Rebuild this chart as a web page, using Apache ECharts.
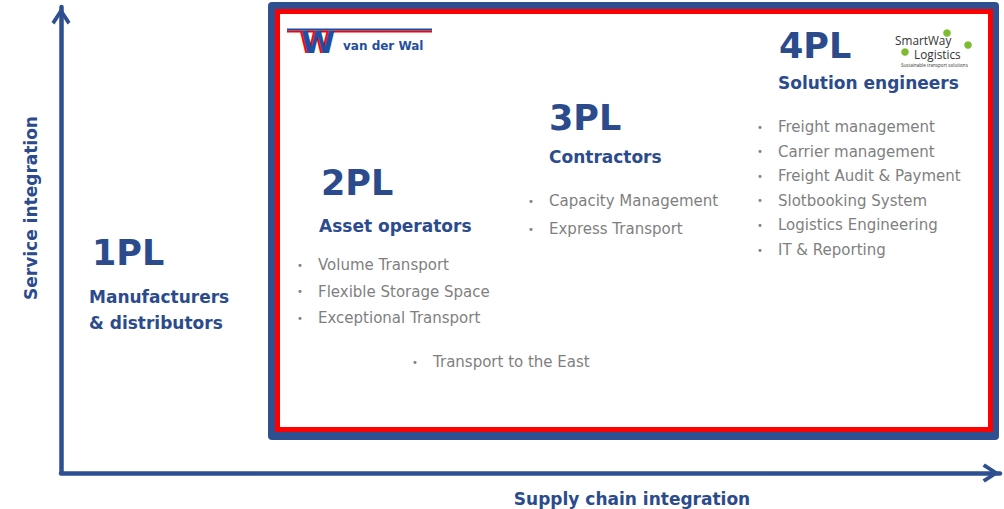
<!DOCTYPE html>
<html><head><meta charset="utf-8">
<script src="https://cdn.jsdelivr.net/npm/echarts@6/dist/echarts.min.js"></script>
<style>html,body{margin:0;padding:0;background:#fff}#c{width:1004px;height:509px}</style>
</head><body><div id="c"></div>
<script>
// ---- data ----
const tiers = ['1PL', '2PL', '3PL', '4PL'];
const roles = ['Manufacturers\n& distributors', 'Asset operators', 'Contractors', 'Solution engineers'];
const services2PL = ['Volume Transport', 'Flexible Storage Space', 'Exceptional Transport'];
const services3PL = ['Capacity Management', 'Express Transport'];
const services4PL = ['Freight management', 'Carrier management', 'Freight Audit & Payment', 'Slotbooking System', 'Logistics Engineering', 'IT & Reporting'];
const extraServices = ['Transport to the East'];
const axisNames = ['Supply chain integration', 'Service integration'];
const logoVdW = 'van der Wal';
const logoSW = ['SmartWay', 'Logistics', 'Sustainable transport solutions'];

// ---- style / layout ----
const NAVY = '#2b4b8c', AXIS = '#2e4f90', GRAY = '#7f7f7f', RED = '#ff0000';
const FF = '"DejaVu Sans", Verdana, sans-serif';
const tierPos = [[92, 253], [321, 183], [549, 118], [779, 46]];
const rolePos = [[89, 297], [319, 226], [549, 157], [778, 83]];
const servicesLists = [[], services2PL, services3PL, services4PL];
const listPos = [null, [318, 265], [549, 201], [778, 127]];
const listGaps = [0, 26.5, 28, 24.6];
const extraPos = [433, 362];

const g = [];
// frame
g.push({type: 'rect', shape: {x: 268, y: 2, width: 731, height: 438, r: 4}, style: {fill: AXIS}, z: 1});
g.push({type: 'rect', shape: {x: 275, y: 9, width: 718, height: 423}, style: {fill: RED}, z: 2});
g.push({type: 'rect', shape: {x: 280, y: 14, width: 708, height: 413}, style: {fill: '#fff'}, z: 3});

function txt(s, x, y, size, color, weight, align, extra, lh, ff) {
  return Object.assign({type: 'text', x: x, y: y, z: 10, style: {
    text: s, fill: color, fontSize: size, fontFamily: ff || FF, fontWeight: weight || 'normal',
    align: align || 'left', verticalAlign: 'middle', lineHeight: lh || 26
  }}, extra || {});
}
tiers.forEach((t, i) => g.push(txt(t, tierPos[i][0], tierPos[i][1], 35, NAVY, 'bold')));
roles.forEach((r, i) => g.push(txt(r, rolePos[i][0], rolePos[i][1] + (i === 0 ? 13 : 0), 17, NAVY, 'bold')));
function bullets(list, x, y, gap) {
  list.forEach((s, k) => {
    g.push(txt('•', x - 18, y + k * gap, 10, GRAY, 'normal', 'center'));
    g.push(txt(s, x, y + k * gap, 15, GRAY));
  });
}
servicesLists.forEach((l, i) => { if (l.length) bullets(l, listPos[i][0], listPos[i][1], listGaps[i]); });
bullets(extraServices, extraPos[0], extraPos[1], 0);

// axis titles
g.push(txt(axisNames[0], 632, 499, 17, NAVY, 'bold', 'center'));
g.push(txt(axisNames[1], 31, 208, 17, NAVY, 'bold', 'center', {rotation: Math.PI / 2}));

// van der Wal logo
g.push({type: 'rect', shape: {x: 287, y: 28.5, width: 145, height: 2.2}, style: {fill: '#1f4f9e'}, z: 10});
g.push({type: 'rect', shape: {x: 287, y: 30.7, width: 145, height: 1.8}, style: {fill: RED}, z: 10});
g.push({type: 'text', x: 316, y: 42, z: 11, style: {text: 'W', fill: RED, fontSize: 31, fontFamily: '"DejaVu Sans"', fontWeight: 'bold', align: 'center', verticalAlign: 'middle'}});
g.push({type: 'text', x: 318, y: 42, z: 12, style: {text: 'W', fill: '#1f4f9e', fontSize: 31, fontFamily: '"DejaVu Sans"', fontWeight: 'bold', align: 'center', verticalAlign: 'middle'}});
g.push(txt(logoVdW, 343, 46, 12, '#1f4f9e', 'bold'));

// SmartWay logo
const GREEN = '#7dbb2f';
const SWF = '"Open Sans", sans-serif';
g.push(txt(logoSW[0], 895, 39.5, 11.8, '#333', 'normal', 'left', null, 12, SWF));
g.push(txt(logoSW[1], 914, 54, 11.8, '#333', 'normal', 'left', null, 12, SWF));
g.push(txt(logoSW[2], 901, 64.5, 4.6, '#333', 'normal', 'left', null, 5, SWF));
[[947, 33], [968, 45], [905, 52]].forEach(p => g.push({type: 'circle', shape: {cx: p[0], cy: p[1], r: 3.8}, style: {fill: GREEN}, z: 13}));

const arrow = 'path://M9.5,0 L19,14.6 L16,17 L9.5,6.8 L3,17 L0,14.6 Z';
const axisCommon = {
  type: 'value', min: 0, max: 1,
  axisLabel: {show: false}, axisTick: {show: false}, splitLine: {show: false},
  axisLine: {show: true, onZero: false, lineStyle: {color: AXIS, width: 4.5},
    symbol: ['none', arrow], symbolSize: [19, 18], symbolOffset: [0, -9]}
};
const chart = echarts.init(document.getElementById('c'), null, {renderer: 'svg'});
chart.setOption({
  animation: false,
  grid: {left: 61, right: 4, top: 7, bottom: 36, containLabel: false},
  xAxis: axisCommon,
  yAxis: axisCommon,
  series: [],
  graphic: g
});
</script></body></html>
